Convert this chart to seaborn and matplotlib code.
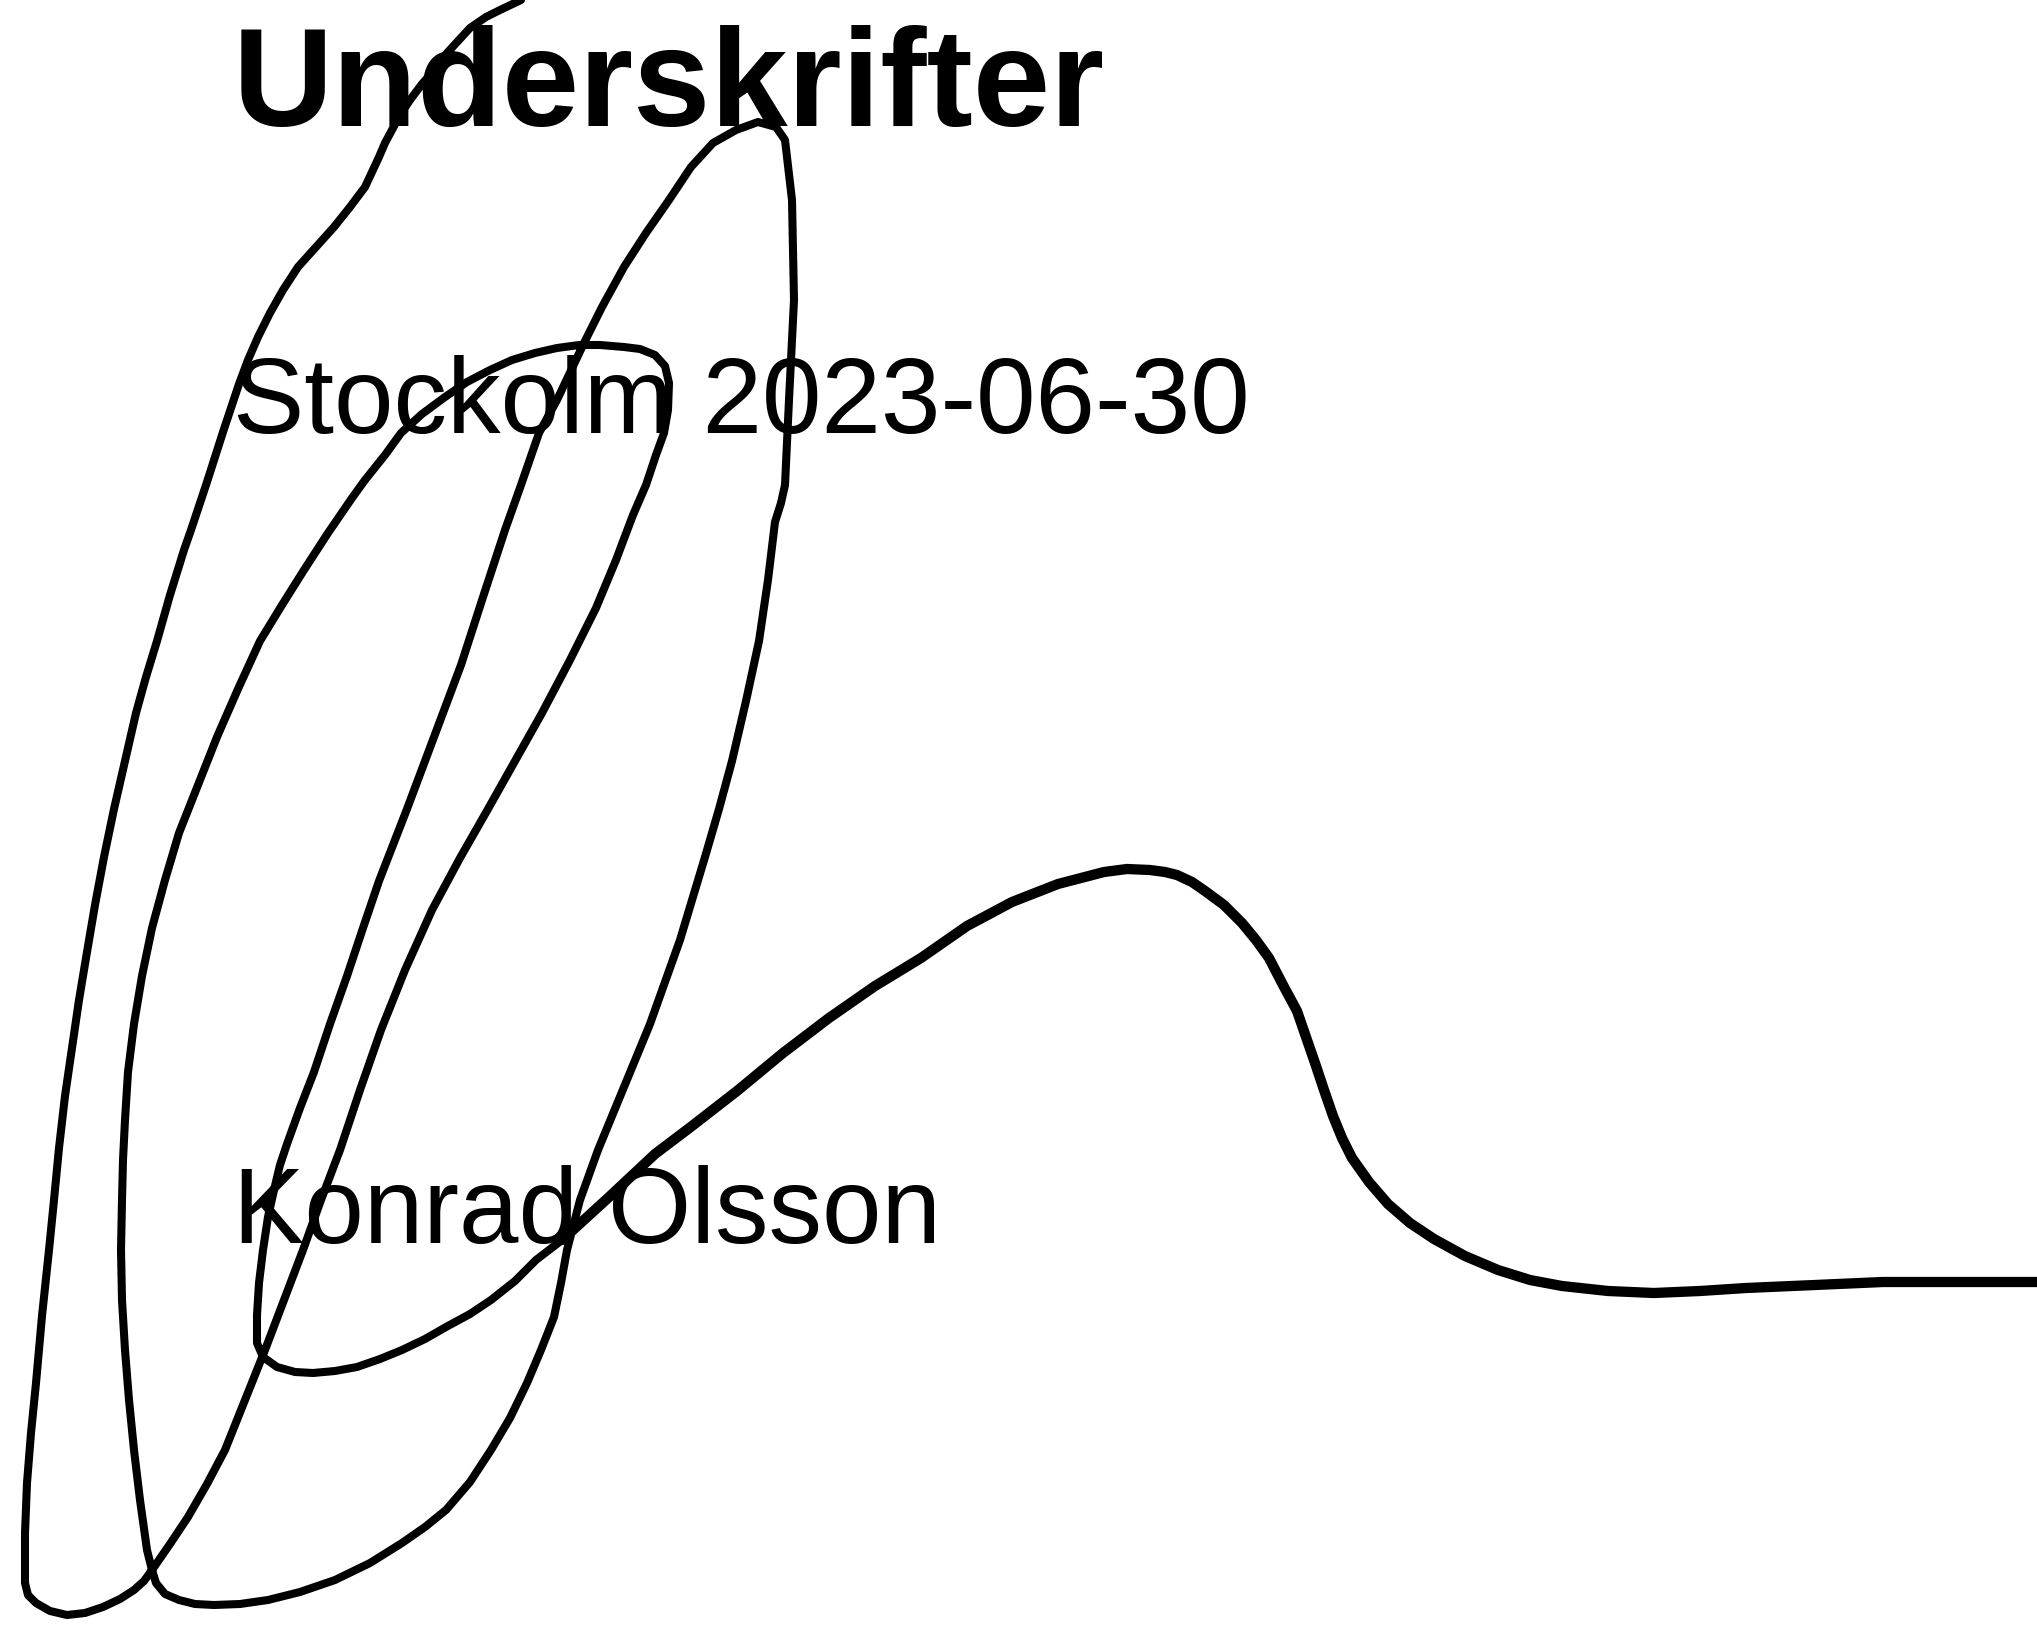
import matplotlib
matplotlib.use("Agg")
import matplotlib.pyplot as plt
import pandas as pd
import seaborn as sns

# page texts
title = "Underskrifter"
place_date = "Stockolm 2023-06-30"
signer = "Konrad Olsson"

# signature stroke (page pixels, y down)
# loops part
loop_x = [521, 500, 486, 470, 459, 447, 437, 422, 410, 400, 392, 385, 379, 372, 365, 350, 334, 316, 298, 283,
          270, 258, 248, 239, 231, 223, 215, 207, 199, 191, 184, 170, 157, 146, 136, 125, 114, 104, 95, 87, 79,
          72, 65, 59, 54, 49, 42, 36, 31, 27, 25, 25, 28, 36, 50, 67, 85, 103, 120, 134, 144,
          152, 170, 188, 207, 225, 245, 265, 284, 303, 321, 340, 360, 381, 405, 432, 460, 488, 515, 542,
          570, 596, 616, 633, 646, 656, 664, 668, 669, 665, 655, 640, 624, 600, 579, 557, 535, 512, 490, 467,
          445, 422, 401, 385, 365, 352, 328, 304, 282, 260, 238, 217, 198, 179, 165, 152, 142, 134, 128, 125,
          123, 122, 121, 122, 125, 129, 134, 140, 147, 152, 156, 165, 179, 195, 214, 240, 268, 300, 335, 370,
          402, 425, 446, 470, 491, 510, 527, 541, 554, 561, 567, 580, 598, 624, 650, 680, 705, 719, 732, 746,
          759, 768, 775, 781, 785, 789, 794, 792, 785, 776, 758, 736, 713, 691, 669, 646, 624, 602, 584, 557,
          539, 521, 505, 484, 461, 434, 407, 379, 363, 347, 330, 314, 300, 287, 280, 274, 268, 263, 259, 257,
          257, 263, 277, 295, 313, 335, 357, 380, 402, 425, 446, 470, 491, 515, 536, 562]
loop_y = [0, 10, 17, 28, 40, 53, 67, 84, 100, 115, 130, 143, 157, 172, 187, 207, 227, 247, 267, 290,
          313, 337, 360, 384, 408, 432, 457, 482, 506, 530, 550, 595, 641, 677, 713, 761, 809, 857, 905, 952, 1000,
          1048, 1096, 1148, 1200, 1250, 1316, 1383, 1433, 1483, 1533, 1583, 1595, 1603, 1611, 1615, 1613, 1607, 1599, 1590, 1581,
          1570, 1544, 1517, 1484, 1450, 1400, 1350, 1300, 1250, 1200, 1150, 1090, 1030, 970, 910, 858, 809, 761, 713,
          660, 608, 560, 515, 485, 455, 433, 410, 383, 366, 355, 349, 347, 345, 345, 348, 353, 360, 370, 382,
          397, 414, 433, 455, 480, 498, 533, 570, 605, 641, 689, 737, 785, 833, 880, 928, 976, 1024, 1072, 1120,
          1160, 1200, 1250, 1300, 1350, 1400, 1450, 1500, 1550, 1570, 1583, 1594, 1600, 1604, 1605, 1604, 1600, 1592, 1580, 1563,
          1543, 1527, 1510, 1482, 1450, 1418, 1383, 1350, 1317, 1283, 1250, 1200, 1150, 1087, 1024, 940, 857, 809, 761, 701,
          641, 580, 522, 503, 485, 400, 300, 200, 140, 127, 122, 130, 143, 167, 200, 233, 267, 307, 343, 400,
          433, 485, 530, 594, 665, 737, 809, 881, 928, 976, 1024, 1072, 1108, 1144, 1165, 1190, 1217, 1250, 1283, 1315,
          1343, 1357, 1367, 1372, 1373, 1371, 1367, 1359, 1350, 1339, 1327, 1314, 1300, 1281, 1260, 1240]

# tail part (the wave out to the right edge)
tail_x = [562, 608, 655, 692, 737, 783, 829, 875, 921, 967, 1012, 1058, 1104, 1127, 1150, 1165, 1177, 1192, 1205, 1224,
          1242, 1256, 1269, 1283, 1297, 1306, 1315, 1324, 1333, 1342, 1352, 1369, 1388, 1410, 1434, 1465, 1498, 1530, 1562, 1608,
          1654, 1700, 1746, 1815, 1883, 1960, 2037]
tail_y = [1240, 1198, 1154, 1126, 1091, 1053, 1018, 986, 958, 926, 902, 884, 872, 869, 870, 872, 875, 882, 891, 905,
          923, 940, 958, 985, 1011, 1037, 1063, 1090, 1116, 1138, 1158, 1182, 1204, 1223, 1239, 1256, 1270, 1280, 1286, 1291,
          1293, 1291, 1288, 1285, 1282, 1282, 1282]

sns.set_theme(style="white")
plt.rcParams['font.family'] = ['Liberation Sans', 'DejaVu Sans']

fig = plt.figure(figsize=(20.37, 16.35), dpi=100)
ax = fig.add_axes([0, 0, 1, 1])

loop = pd.DataFrame({'x': loop_x, 'y': loop_y})
tail = pd.DataFrame({'x': tail_x, 'y': tail_y})
sns.lineplot(data=loop, x='x', y='y', sort=False, estimator=None, color='black',
             lw=5.8, solid_capstyle='round', solid_joinstyle='round', ax=ax)
sns.lineplot(data=tail, x='x', y='y', sort=False, estimator=None, color='black',
             lw=7.4, solid_capstyle='round', solid_joinstyle='round', ax=ax)

ax.text(233, 126, title, fontsize=100, fontweight='bold', color='black', ha='left', va='baseline')
ax.text(233, 433, place_date, fontsize=77, color='black', ha='left', va='baseline')
ax.text(233, 1243, signer, fontsize=77, color='black', ha='left', va='baseline')

ax.set_xlim(0, 2037)
ax.set_ylim(1635, 0)
ax.set_axis_off()

fig.savefig('out.png', dpi=100, facecolor='white')
plt.close(fig)
